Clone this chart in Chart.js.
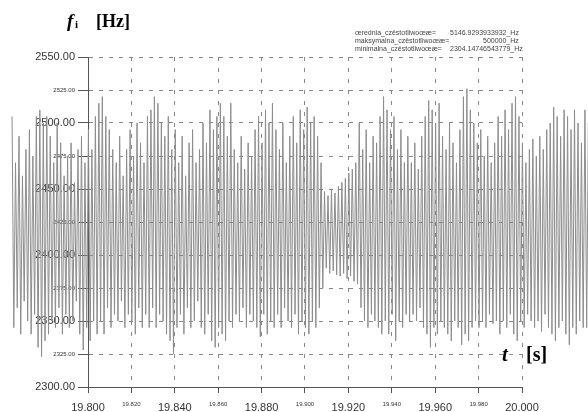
<!DOCTYPE html>
<html>
<head>
<meta charset="utf-8">
<script src="https://cdn.jsdelivr.net/npm/chart.js@4.4.1/dist/chart.umd.min.js"></script>
<style>
html,body{margin:0;padding:0;background:#fff;}
canvas{display:block;}
</style>
</head>
<body>
<canvas id="c" width="588" height="412"></canvas>
<script>
// sample timing of the series (s)
const TIME_START = 19.765;
const TIME_STEP = 0.0008;
// instantaneous frequency samples (Hz)
const FREQ = [
  2505, 2345, 2470, 2360, 2490, 2340, 2460, 2365, 2480, 2350,
  2495, 2340, 2475, 2355, 2505, 2330, 2510, 2323, 2500, 2335,
  2505, 2340, 2490, 2350, 2470, 2345, 2500, 2360, 2485, 2340,
  2460, 2355, 2475, 2345, 2485, 2350, 2455, 2365, 2480, 2340,
  2490, 2328, 2470, 2345, 2495, 2335, 2480, 2350, 2505, 2340,
  2515, 2350, 2520, 2340, 2505, 2360, 2495, 2345, 2480, 2355,
  2470, 2350, 2490, 2365, 2460, 2345, 2480, 2355, 2495, 2350,
  2475, 2340, 2500, 2360, 2485, 2345, 2470, 2355, 2505, 2345,
  2510, 2360, 2520, 2345, 2515, 2355, 2500, 2350, 2490, 2340,
  2505, 2335, 2480, 2325, 2495, 2345, 2470, 2355, 2490, 2340,
  2460, 2360, 2485, 2345, 2495, 2350, 2470, 2365, 2480, 2345,
  2500, 2340, 2485, 2355, 2510, 2335, 2495, 2330, 2505, 2345,
  2515, 2340, 2505, 2335, 2490, 2350, 2515, 2345, 2480, 2355,
  2470, 2350, 2490, 2360, 2465, 2345, 2485, 2355, 2475, 2350,
  2495, 2345, 2505, 2338, 2485, 2355, 2510, 2340, 2500, 2350,
  2515, 2345, 2495, 2355, 2480, 2345, 2500, 2360, 2470, 2350,
  2490, 2345, 2505, 2355, 2485, 2340, 2510, 2350, 2495, 2345,
  2512, 2340, 2500, 2350, 2505, 2345, 2490, 2360, 2470, 2375,
  2448, 2390, 2445, 2386, 2450, 2388, 2447, 2385, 2452, 2384,
  2455, 2386, 2458, 2382, 2462, 2384, 2465, 2380, 2470, 2378,
  2500, 2360, 2480, 2350, 2495, 2345, 2470, 2355, 2490, 2350,
  2485, 2345, 2505, 2340, 2520, 2350, 2510, 2340, 2495, 2355,
  2505, 2335, 2480, 2350, 2495, 2345, 2470, 2355, 2490, 2350,
  2470, 2355, 2485, 2350, 2465, 2360, 2490, 2345, 2505, 2340,
  2517, 2330, 2510, 2345, 2500, 2340, 2515, 2350, 2490, 2345,
  2480, 2340, 2500, 2335, 2485, 2350, 2470, 2345, 2495, 2332,
  2520, 2340, 2526, 2335, 2510, 2345, 2500, 2350, 2485, 2345,
  2495, 2350, 2475, 2345, 2490, 2355, 2470, 2348, 2485, 2350,
  2505, 2340, 2490, 2350, 2510, 2345, 2495, 2355, 2515, 2340,
  2520, 2335, 2505, 2350, 2485, 2345, 2470, 2355, 2480, 2350,
  2488, 2345, 2475, 2350, 2490, 2342, 2480, 2355, 2495, 2345,
  2500, 2340, 2512, 2335, 2505, 2345, 2490, 2350, 2510, 2340,
  2505, 2332, 2495, 2345, 2510, 2340, 2500, 2350, 2485, 2345,
  2510, 2345, 2500, 2350, 2495, 2340, 2505, 2355, 2490, 2350
];
const X_TICKS = [19.80, 19.82, 19.84, 19.86, 19.88, 19.90, 19.92, 19.94, 19.96, 19.98, 20.00];
const Y_TICKS = [2300, 2325, 2350, 2375, 2400, 2425, 2450, 2475, 2500, 2525, 2550];
const X_RANGE = [19.8, 20.0];
const Y_RANGE = [2300, 2550];
const INFO_LABELS = ['œrednia_czêstotliwoœæ=', 'maksymalna_czêstotliwoœæ=', 'minimalna_czêstotliwoœæ='];
const INFO_VALUES = ['5146.9293933932_Hz', '500000_Hz', '2304.14746543779_Hz'];

const points = FREQ.map((v, i) => ({x: TIME_START + i * TIME_STEP, y: v}));

const SANS = '"Liberation Sans", Arial, sans-serif';
const SERIF = '"Liberation Serif", "Times New Roman", serif';

const decor = {
  id: 'decor',
  afterDraw(chart) {
    const ctx = chart.ctx;
    ctx.save();
    ctx.fillStyle = '#000';
    ctx.textBaseline = 'alphabetic';
    ctx.textAlign = 'left';
    // y axis title
    ctx.font = 'italic bold 19px ' + SERIF;
    ctx.fillText('f', 67, 27);
    ctx.font = 'bold 11px ' + SERIF;
    ctx.fillText('i', 75, 28);
    ctx.font = 'bold 18px ' + SERIF;
    ctx.fillText('[Hz]', 96, 27);
    // x axis title
    ctx.font = 'italic bold 21px ' + SERIF;
    ctx.fillText('t', 502, 361);
    ctx.font = 'bold 20px ' + SERIF;
    ctx.fillText('[s]', 526, 361);
    // info text
    ctx.font = '7px ' + SANS;
    ctx.fillStyle = '#444';
    const ys = [35, 43, 51];
    const vx = [450, 483, 450];
    for (let i = 0; i < 3; i++) {
      ctx.fillText(INFO_LABELS[i], 355, ys[i]);
      ctx.fillText(INFO_VALUES[i], vx[i], ys[i]);
    }
    ctx.restore();
  }
};

new Chart(document.getElementById('c'), {
  type: 'line',
  data: {
    datasets: [{
      data: points,
      borderColor: '#8c8c8c',
      borderWidth: 1,
      pointRadius: 0,
      tension: 0,
      fill: false,
      clip: false
    }]
  },
  options: {
    responsive: false,
    animation: false,
    layout: {padding: {top: 57, right: 66, left: 0, bottom: 0}},
    plugins: {legend: {display: false}, tooltip: {enabled: false}},
    scales: {
      x: {
        type: 'linear',
        afterDataLimits: s => { s.min = X_RANGE[0]; s.max = X_RANGE[1]; },
        afterBuildTicks: s => { s.ticks = X_TICKS.map(v => ({value: v})); },
        afterFit: s => { s.height = 25; },
        grid: {
          color: '#888', lineWidth: 1, tickLength: 6,
          tickColor: '#555',
          drawOnChartArea: true
        },
        border: {display: true, color: '#555', width: 1, dash: [4, 7]},
        ticks: {
          autoSkip: false, maxRotation: 0, minRotation: 0, padding: 8,
          color: '#333',
          font: c => ({family: SANS, size: (c.index % 2 === 0) ? 11 : 6}),
          callback: v => Number(v).toFixed(3)
        }
      },
      y: {
        type: 'linear',
        min: Y_RANGE[0], max: Y_RANGE[1],
        afterBuildTicks: s => { s.ticks = Y_TICKS.map(v => ({value: v})); },
        afterFit: s => { s.width = 88; },
        grid: {
          color: '#888', lineWidth: 1, tickLength: 10,
          tickColor: '#555'
        },
        border: {display: true, color: '#555', width: 1, dash: [4, 6]},
        ticks: {
          autoSkip: false, padding: 3,
          color: '#333',
          font: c => ({family: SANS, size: (c.index % 2 === 0) ? 11 : 6}),
          callback: v => Number(v).toFixed(2)
        }
      }
    }
  },
  plugins: [decor]
});
</script>
</body>
</html>
